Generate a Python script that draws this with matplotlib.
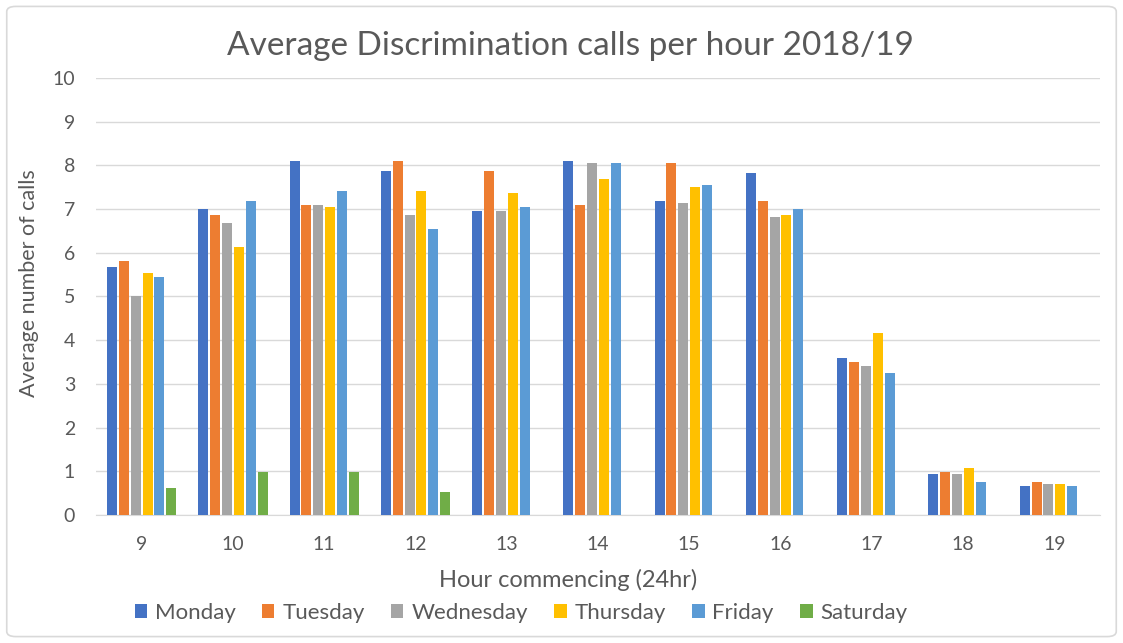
import numpy as np
import matplotlib.pyplot as plt
from matplotlib.patches import FancyBboxPatch

plt.rcParams["font.family"] = ["Lato", "DejaVu Sans"]

# data
hours = ["9", "10", "11", "12", "13", "14", "15", "16", "17", "18", "19"]
days = ["Monday", "Tuesday", "Wednesday", "Thursday", "Friday", "Saturday"]
monday = [5.67, 7.00, 8.10, 7.87, 6.95, 8.10, 7.18, 7.82, 3.60, 0.95, 0.66]
tuesday = [5.80, 6.86, 7.08, 8.10, 7.87, 7.08, 8.05, 7.18, 3.51, 0.99, 0.76]
wednesday = [5.00, 6.68, 7.08, 6.86, 6.95, 8.05, 7.14, 6.81, 3.42, 0.95, 0.72]
thursday = [5.53, 6.13, 7.04, 7.41, 7.36, 7.69, 7.50, 6.86, 4.16, 1.08, 0.72]
friday = [5.44, 7.18, 7.40, 6.54, 7.04, 8.05, 7.55, 7.00, 3.24, 0.76, 0.66]
saturday = [0.62, 0.99, 0.99, 0.53, 0, 0, 0, 0, 0, 0, 0]

series = [monday, tuesday, wednesday, thursday, friday, saturday]
colors = ["#4472C4", "#ED7D31", "#A5A5A5", "#FFC000", "#5B9BD5", "#70AD47"]
text_col = "#595959"

fig = plt.figure(figsize=(11.23, 6.43), dpi=100)
ax = fig.add_axes([0.0855, 0.199, 0.894, 0.680])

x = np.arange(len(hours))
slot = 0.13
width = 0.11
for i, (vals, c, name) in enumerate(zip(series, colors, days)):
    ax.bar(x + (i - 2.5) * slot, vals, width=width, color=c, label=name, zorder=3)

ax.set_xlim(-0.5, 10.5)
ax.set_ylim(0, 10)
ax.set_yticks(range(0, 11))
ax.set_xticks(x)
ax.set_xticklabels(hours)
ax.tick_params(axis="both", length=0, labelsize=14, colors=text_col)
ax.tick_params(axis="y", pad=15)
ax.tick_params(axis="x", pad=15)
ax.grid(axis="y", color="#d9d9d9", linewidth=1, zorder=0)
for s in ["top", "right", "left"]:
    ax.spines[s].set_visible(False)
ax.spines["bottom"].set_color("#d9d9d9")

# axis titles and chart title placed on the figure like in the Excel export
fig.text(0.026, 0.56, "Average number of calls", fontsize=15.5, color=text_col,
         rotation=90, ha="center", va="center")
fig.text(0.506, 0.098, "Hour commencing (24hr)", fontsize=17, color=text_col,
         ha="center", va="center")
fig.text(0.508, 0.928, "Average Discrimination calls per hour 2018/19",
         fontsize=24, color=text_col, ha="center", va="center")

fig.legend(loc="center", bbox_to_anchor=(0.464, 0.047), ncol=6, frameon=False,
           fontsize=16, labelcolor=text_col, handlelength=0.55, handleheight=0.55,
           handletextpad=0.35, columnspacing=1.2)

# light frame around the whole chart
fig.patches.append(FancyBboxPatch((0.006, 0.01), 0.988, 0.98,
                                  boxstyle="round,pad=0,rounding_size=0.008",
                                  transform=fig.transFigure, fill=False,
                                  edgecolor="#d9d9d9", linewidth=1.2))

fig.savefig("out.png", dpi=100)
